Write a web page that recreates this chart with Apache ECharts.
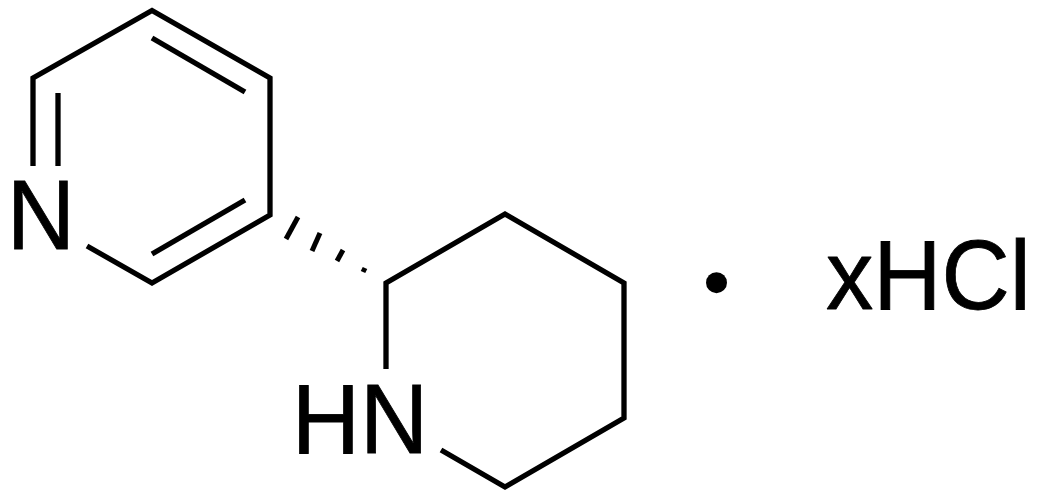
<!DOCTYPE html>
<html><head><meta charset="utf-8">
<style>html,body{margin:0;padding:0;background:#fff}#c{width:1039px;height:497px}</style>
<script src="https://cdn.jsdelivr.net/npm/echarts@6/dist/echarts.min.js"></script>
</head><body><div id="c"></div>
<script>
// Bond polylines, in the drawing's own x / y units
const pyridineRing = [[33,166],[33,78],[152,10.5],[270,78],[270,215],[152,283],[87,246]];
const innerBondLeft = [[58,93],[58,166]];
const innerBondTop = [[152,38],[245,92]];
const innerBondLower = [[245,200],[152,254]];
const piperidineRing = [[386,369],[386,283],[505,214],[624,283],[624,418],[505,487],[441,450]];
const hashBars = [
  [[298,217],[286,239]],
  [[320,233],[312,251]],
  [[343,250],[337,261]],
  [[365,268],[363,272]]
];
const centreDot = [[716.5,282.7]];
const atomLabels = ['N','HN','xHCl'];
const atomLabelX = [6.8,291.8,826];
const atomLabelBaseline = [250,454,310.7];

const ink = '#000';
const bond = (data, width) => ({
  type:'line', data, symbol:'none', silent:true, animation:false, clip:false,
  lineStyle:{color:ink, width:width||5.3, cap:'butt', join:'miter', miterLimit:10}
});
const chart = echarts.init(document.getElementById('c'), null, {renderer:'canvas'});
chart.setOption({
  animation:false,
  backgroundColor:'#fff',
  grid:{left:0,right:0,top:0,bottom:0},
  xAxis:{type:'value',min:0,max:1039,show:false},
  yAxis:{type:'value',min:0,max:497,inverse:true,show:false},
  series:[
    bond(pyridineRing), bond(innerBondLeft), bond(innerBondTop), bond(innerBondLower),
    bond(piperidineRing),
    ...hashBars.map(b=>bond(b,5)),
    {type:'scatter',data:centreDot,symbol:'circle',symbolSize:21,itemStyle:{color:ink,opacity:1},silent:true,animation:false},
    {type:'custom',silent:true,animation:false,clip:false,
     data:atomLabels.map((t,i)=>[atomLabelX[i],atomLabelBaseline[i],t]),
     encode:{x:0,y:1},
     renderItem:(p,api)=>{
       const pt = api.coord([api.value(0),api.value(1)]);
       return {type:'text',x:pt[0],y:pt[1]+21,scaleX:0.955,
         style:{text:atomLabels[p.dataIndex],font:'99px "Liberation Sans"',fill:ink,
                stroke:ink,lineWidth:0.8,
                align:'left',verticalAlign:'bottom',lineHeight:99}};
     }}
  ]
});
</script></body></html>
